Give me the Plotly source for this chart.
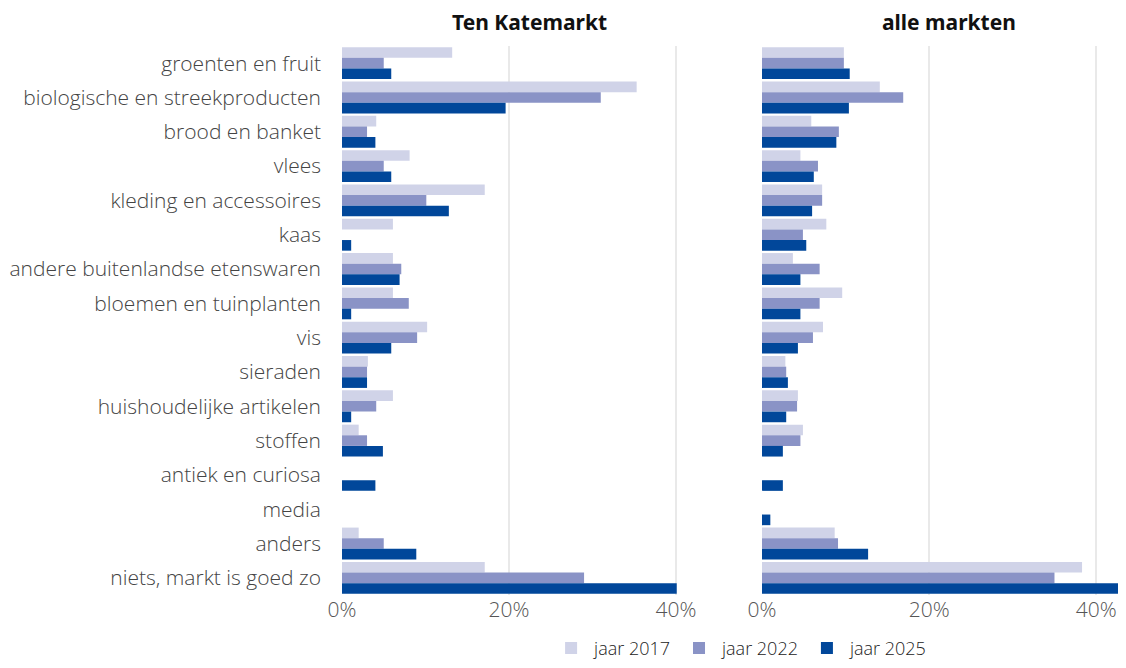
import plotly.graph_objects as go
from plotly.subplots import make_subplots

categories = [
    "groenten en fruit", "biologische en streekproducten", "brood en banket", "vlees",
    "kleding en accessoires", "kaas", "andere buitenlandse etenswaren", "bloemen en tuinplanten",
    "vis", "sieraden", "huishoudelijke artikelen", "stoffen", "antiek en curiosa", "media",
    "anders", "niets, markt is goed zo",
]
panel_titles = ["Ten Katemarkt", "alle markten"]
series_names = ["jaar 2017", "jaar 2022", "jaar 2025"]

ten_kate_2017 = [13.2, 35.3, 4.1, 8.1, 17.1, 6.1, 6.1, 6.1, 10.2, 3.1, 6.1, 2.0, 0, 0, 2.0, 17.1]
ten_kate_2022 = [5.0, 31.0, 3.0, 5.0, 10.1, 0, 7.1, 8.0, 9.0, 3.0, 4.1, 3.0, 0, 0, 5.0, 29.0]
ten_kate_2025 = [5.9, 19.6, 4.0, 5.9, 12.8, 1.1, 6.9, 1.1, 5.9, 3.0, 1.1, 4.9, 4.0, 0, 8.9, 40.1]

alle_2017 = [9.8, 14.1, 5.9, 4.6, 7.2, 7.7, 3.7, 9.6, 7.3, 2.8, 4.3, 4.9, 0, 0, 8.7, 38.3]
alle_2022 = [9.8, 16.9, 9.2, 6.7, 7.2, 4.9, 6.9, 6.9, 6.1, 2.9, 4.2, 4.6, 0, 0, 9.1, 35.0]
alle_2025 = [10.5, 10.4, 8.9, 6.2, 6.0, 5.3, 4.6, 4.6, 4.3, 3.1, 2.9, 2.5, 2.5, 1.0, 12.7, 44.0]

x_ticks = [0, 20, 40]
x_tick_labels = ["0%", "20%", "40%"]
colors = ["#d0d3e8", "#8a93c6", "#01479a"]

fig = make_subplots(rows=1, cols=2, shared_yaxes=False, horizontal_spacing=0.0)

panels = [
    [ten_kate_2017, ten_kate_2022, ten_kate_2025],
    [alle_2017, alle_2022, alle_2025],
]
for col, data in enumerate(panels, start=1):
    for name, vals, c in zip(series_names, data, colors):
        fig.add_trace(
            go.Bar(
                y=categories, x=vals, name=name, orientation="h",
                marker=dict(color=c, line=dict(width=0)),
                legendgroup=name, showlegend=(col == 1),
                hovertemplate="%{y}: %{x}%<extra>" + name + "</extra>",
            ),
            row=1, col=col,
        )

axis_x = dict(
    tickmode="array", tickvals=x_ticks, ticktext=x_tick_labels,
    showgrid=True, gridcolor="#e9e9e9", gridwidth=2, zeroline=False, showline=False,
    tickfont=dict(family="Open Sans", size=21, color="#555555", weight=300), ticks="",
    ticklabelstandoff=0, automargin=False,
)
fig.update_xaxes(**axis_x)
fig.update_xaxes(domain=[0, 0.469], range=[0, 43.6], row=1, col=1)
fig.update_xaxes(domain=[0.5412, 1.0], range=[0, 42.6], row=1, col=2)

fig.update_yaxes(autorange="reversed", showgrid=False, zeroline=False, showline=False,
                 ticks="", categoryorder="array", categoryarray=categories, automargin=False)
fig.update_yaxes(tickfont=dict(family="Open Sans", size=21, color="#444444", weight=300),
                 ticklabelstandoff=20, row=1, col=1)
fig.update_yaxes(showticklabels=False, row=1, col=2)

fig.update_layout(
    width=1110, height=652,
    margin=dict(l=334, r=0, t=38, b=65, autoexpand=False),
    plot_bgcolor="white", paper_bgcolor="white",
    font=dict(family="Open Sans", color="#444444"),
    barmode="group", bargap=0.07, bargroupgap=0.0,
    legend=dict(orientation="h", x=0.513, xanchor="center", y=-0.097, yanchor="middle",
                font=dict(family="Open Sans", size=18, color="#222222", weight=300),
                itemwidth=36, traceorder="normal"),
    annotations=[
        dict(text="<b>" + panel_titles[0] + "</b>", x=0.241, y=1.0, xref="paper", yref="paper",
             xanchor="center", yanchor="middle", yshift=24, showarrow=False,
             font=dict(family="Noto Sans", size=21, color="#111111")),
        dict(text="<b>" + panel_titles[1] + "</b>", x=0.782, y=1.0, xref="paper", yref="paper",
             xanchor="center", yanchor="middle", yshift=24, showarrow=False,
             font=dict(family="Noto Sans", size=21, color="#111111")),
    ],
)

fig.write_html("out.html")
